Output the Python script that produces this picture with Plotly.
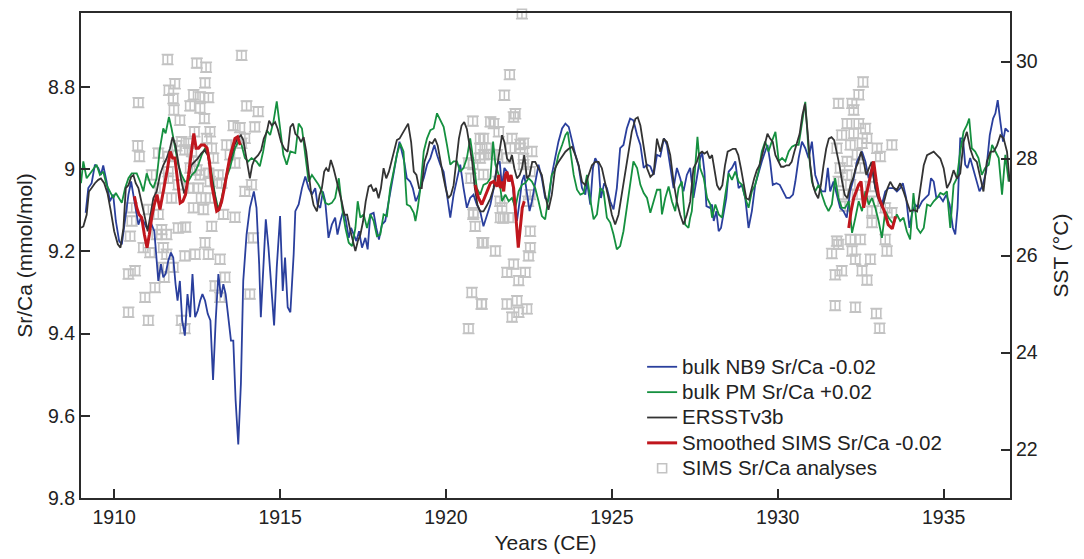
import plotly.graph_objects as go

# ---------------- data ----------------
nb9_years = [1909.14,1909.22,1909.32,1909.42,1909.52,1909.60,1909.67,1909.77,1909.87,1909.97,1910.05,1910.15,1910.23,1910.33,1910.43,1910.51,1910.58,1910.65,1910.73,1910.80,1910.88,1910.98,1911.05,1911.13,1911.21,1911.28,1911.33,1911.41,1911.48,1911.55,1911.63,1911.71,1911.78,1911.85,1911.91,1911.98,1912.05,1912.13,1912.21,1912.29,1912.36,1912.44,1912.52,1912.59,1912.66,1912.74,1912.82,1912.90,1912.98,1913.06,1913.14,1913.22,1913.29,1913.36,1913.44,1913.52,1913.59,1913.66,1913.74,1913.82,1913.89,1913.99,1914.09,1914.21,1914.29,1914.37,1914.42,1914.50,1914.57,1914.65,1914.73,1914.82,1914.90,1915.00,1915.08,1915.15,1915.23,1915.31,
 1915.41,1915.46,1915.56,1915.66,1915.76,1915.86,1915.96,1916.06,1916.13,1916.21,1916.29,1916.36,1916.46,1916.56,1916.66,1916.73,1916.82,1916.90,1916.97,1917.07,1917.14,1917.22,1917.30,1917.38,1917.47,1917.57,1917.64,1917.72,1917.82,1917.90,1917.98,1918.07,1918.17,1918.24,1918.34,1918.42,1918.52,1918.60,1918.67,1918.74,1918.82,1918.92,1919.00,1919.09,1919.18,1919.25,1919.33,1919.43,1919.53,1919.65,1919.73,1919.83,1919.93,1920.03,1920.13,1920.23,1920.33,1920.43,1920.53,1920.63,1920.73,1920.83,1920.93,1921.03,1921.13,1921.24,1921.34,
 1921.44,1921.54,1921.62,1921.69,1921.76,1921.84,1921.92,1921.99,1922.06,1922.14,1922.22,1922.29,1922.36,1922.44,1922.52,1922.59,1922.69,1922.79,1922.89,1922.99,1923.09,1923.19,1923.29,1923.39,1923.50,1923.60,1923.70,1923.80,1923.90,1924.00,1924.10,1924.20,1924.25,1924.35,1924.43,1924.50,1924.60,1924.67,1924.77,1924.85,1924.95,1925.05,1925.15,1925.25,1925.35,1925.45,1925.55,1925.65,1925.76,1925.86,1925.96,1926.06,1926.16,1926.26,1926.36,1926.46,1926.57,1926.66,1926.76,1926.86,1926.96,1927.06,1927.16,1927.26,1927.36,
 1927.46,1927.56,1927.64,1927.72,1927.79,1927.85,1927.95,1928.02,1928.07,1928.15,1928.22,1928.29,1928.37,1928.45,1928.52,1928.62,1928.72,1928.82,1928.92,1929.02,1929.12,1929.22,1929.32,1929.42,1929.52,1929.62,1929.69,1929.77,1929.85,1929.96,1930.06,1930.16,1930.26,1930.36,1930.46,1930.53,1930.63,1930.73,1930.83,1930.93,1931.03,1931.13,1931.23,1931.33,1931.43,1931.51,1931.58,1931.68,1931.78,1931.88,1931.98,1932.08,1932.18,1932.29,1932.39,1932.49,1932.54,1932.64,1932.74,1932.84,1932.94,1933.04,1933.14,1933.24,1933.34,
 1933.49,1933.59,1933.69,1933.77,1933.87,1933.97,1934.04,1934.14,1934.25,1934.35,1934.45,1934.55,1934.62,1934.70,1934.78,1934.88,1934.98,1935.08,1935.18,1935.28,1935.35,1935.42,1935.50,1935.58,1935.65,1935.72,1935.80,1935.88,1935.98,1936.08,1936.18,1936.28,1936.39,1936.49,1936.56,1936.63,1936.71,1936.79,1936.86,1936.96]
nb9_srca = [9.106,9.046,9.034,8.989,8.997,9.014,8.991,9.030,9.078,9.062,9.126,9.175,9.183,9.118,9.062,9.030,9.062,9.102,9.135,9.118,9.126,9.143,9.139,9.135,9.151,9.231,9.272,9.231,9.263,9.255,9.223,9.203,9.215,9.280,9.320,9.272,9.368,9.405,9.304,9.360,9.255,9.360,9.344,9.320,9.304,9.320,9.352,9.368,9.513,9.368,9.255,9.312,9.280,9.304,9.368,9.417,9.417,9.562,9.670,9.521,9.272,9.159,9.094,9.054,9.094,9.231,9.360,9.215,9.122,9.191,9.280,9.380,9.239,9.114,9.296,9.215,9.336,9.348,
 9.207,9.102,9.086,9.046,9.018,9.046,9.062,9.046,9.086,9.094,9.054,9.078,9.167,9.135,9.118,9.159,9.126,9.102,9.118,9.167,9.143,9.159,9.175,9.151,9.191,9.167,9.195,9.110,9.106,9.143,9.171,9.135,9.126,9.094,9.046,9.006,8.965,8.933,8.957,8.981,9.022,9.030,9.046,9.078,9.062,9.038,9.022,8.989,8.973,8.941,8.965,8.989,9.006,9.062,9.118,9.062,9.022,8.989,9.046,9.094,9.070,9.062,9.086,9.102,9.139,9.110,9.086,
 9.046,8.989,8.981,9.046,8.997,9.006,9.030,9.022,9.078,9.126,9.078,9.030,9.014,9.062,9.102,9.078,9.030,8.989,9.022,9.070,9.078,9.014,8.973,8.933,8.901,8.889,8.897,8.933,8.965,8.993,9.046,9.062,9.030,9.086,8.997,8.973,8.989,9.070,9.034,9.046,9.078,9.098,9.046,8.949,8.941,8.901,8.877,8.881,8.917,8.941,8.997,8.989,8.993,9.014,8.965,8.969,8.925,8.941,8.997,9.046,8.997,9.022,9.054,9.014,8.997,
 9.070,9.022,8.981,8.957,9.006,9.090,9.094,9.086,9.126,9.102,9.151,9.143,9.102,9.070,9.006,8.997,8.981,9.046,9.038,9.070,9.143,9.102,9.038,9.006,8.981,8.957,8.941,8.981,9.038,9.034,9.038,9.054,9.070,9.070,9.062,9.030,8.973,8.933,8.949,8.973,8.933,9.014,9.038,9.054,9.054,8.997,9.054,9.030,9.062,9.094,9.102,9.118,9.054,9.022,8.981,8.965,8.957,8.981,9.022,8.997,9.046,9.062,9.086,9.054,9.046,
 9.046,9.054,9.046,9.034,9.070,9.143,9.110,9.086,9.094,9.078,9.070,9.062,9.022,9.030,9.070,9.066,9.078,9.062,9.086,9.143,9.159,9.094,8.925,8.925,8.989,8.997,8.973,8.997,9.030,9.054,9.038,9.006,8.917,8.877,8.864,8.832,8.885,8.933,8.901,8.909]

pm_years = [1909.00,1909.07,1909.17,1909.32,1909.47,1909.57,1909.67,1909.77,1909.87,1909.97,1910.05,1910.13,1910.23,1910.33,1910.43,1910.53,1910.68,1910.78,1910.88,1910.98,1911.08,1911.18,1911.28,1911.38,1911.48,1911.55,1911.65,1911.73,1911.83,1911.93,1912.03,1912.13,1912.23,1912.34,1912.44,1912.54,1912.64,1912.74,1912.84,1912.94,1913.04,1913.14,1913.24,1913.34,1913.49,1913.64,1913.74,1913.84,1913.94,1914.04,1914.14,1914.29,1914.39,1914.49,1914.60,1914.70,1914.80,1914.90,1915.00,1915.10,1915.20,1915.31,
 1915.46,1915.56,1915.66,1915.76,1915.86,1915.96,1916.06,1916.16,1916.26,1916.36,1916.46,1916.56,1916.66,1916.77,1916.87,1916.97,1917.07,1917.17,1917.27,1917.34,1917.42,1917.52,1917.62,1917.72,1917.82,1917.92,1918.02,1918.12,1918.22,1918.32,1918.42,1918.52,1918.62,1918.72,1918.82,1918.92,1919.03,1919.08,1919.15,1919.23,1919.33,1919.43,1919.53,1919.63,1919.73,1919.83,1919.93,1920.03,1920.13,1920.23,1920.33,1920.43,1920.53,1920.63,1920.73,1920.83,1920.93,1921.03,1921.13,1921.24,1921.34,
 1921.42,1921.49,1921.59,1921.69,1921.79,1921.89,1921.99,1922.09,1922.19,1922.29,1922.39,1922.49,1922.59,1922.69,1922.79,1922.89,1922.99,1923.09,1923.19,1923.29,1923.39,1923.50,1923.60,1923.67,1923.75,1923.85,1923.95,1924.05,1924.15,1924.25,1924.35,1924.45,1924.55,1924.65,1924.75,1924.85,1924.95,1925.05,1925.15,1925.25,1925.35,1925.45,1925.55,1925.65,1925.76,1925.86,1925.96,1926.06,1926.16,1926.26,1926.36,1926.46,1926.51,1926.61,1926.71,1926.81,1926.91,1927.01,1927.11,1927.21,1927.31,1927.36,
 1927.41,1927.51,1927.58,1927.66,1927.77,1927.87,1927.97,1928.02,1928.12,1928.22,1928.32,1928.42,1928.52,1928.62,1928.72,1928.82,1928.92,1929.02,1929.12,1929.22,1929.32,1929.42,1929.52,1929.62,1929.72,1929.82,1929.93,1930.03,1930.13,1930.23,1930.33,1930.43,1930.53,1930.63,1930.73,1930.83,1930.93,1931.03,1931.13,1931.23,1931.33,1931.43,1931.53,1931.63,1931.73,1931.83,1931.93,1932.03,1932.14,1932.24,1932.34,1932.44,1932.54,1932.64,1932.74,1932.84,1932.94,1933.04,1933.14,1933.24,1933.34,
 1933.49,1933.59,1933.69,1933.79,1933.89,1933.99,1934.09,1934.20,1934.30,1934.40,1934.50,1934.60,1934.70,1934.80,1934.90,1935.00,1935.10,1935.20,1935.30,1935.40,1935.50,1935.60,1935.70,1935.77,1935.85,1935.95,1936.05,1936.15,1936.25,1936.36,1936.46,1936.56,1936.66,1936.76,1936.86,1936.96]
pm_srca = [9.034,8.981,9.022,9.006,8.989,9.014,9.006,9.038,9.054,9.070,9.058,9.070,9.082,9.046,9.022,9.010,9.010,9.030,9.054,9.010,9.034,9.046,9.022,8.949,8.901,8.913,8.873,8.901,8.949,8.989,9.014,9.030,9.030,9.014,9.006,8.989,8.965,8.949,8.965,9.014,9.062,9.098,9.070,9.030,8.997,8.949,8.933,8.941,8.973,8.981,8.973,8.981,8.993,8.957,8.905,8.917,8.885,8.835,8.901,8.965,8.989,8.957,
 8.961,8.889,8.901,8.965,9.030,9.014,9.026,9.038,9.054,9.082,9.086,9.082,9.070,9.022,9.094,9.143,9.179,9.187,9.143,9.078,9.118,9.110,9.143,9.110,9.126,9.163,9.159,9.110,9.114,9.046,9.006,8.965,8.937,8.957,9.086,9.090,9.106,9.126,9.094,9.046,8.957,8.925,8.905,8.901,8.864,8.881,8.897,8.941,8.989,8.981,8.981,9.006,8.997,8.973,8.925,8.981,9.046,9.062,9.038,9.034,9.022,
 8.933,8.989,9.014,9.078,9.062,9.078,9.070,9.094,9.054,9.038,9.034,9.022,9.030,9.046,9.078,9.114,9.122,9.070,9.014,9.002,8.965,8.941,8.917,8.909,8.957,9.014,9.050,9.062,9.058,9.014,9.074,9.122,9.110,9.046,9.054,9.118,9.130,9.159,9.195,9.187,9.151,9.094,9.046,8.981,8.997,9.038,9.058,9.070,9.106,9.078,9.050,9.050,9.110,9.070,9.042,9.078,9.102,9.046,9.030,9.135,9.143,9.118,
 9.102,8.997,8.921,8.997,9.022,9.070,9.086,9.118,9.086,9.110,9.118,9.062,9.010,9.026,9.006,9.030,9.038,9.070,9.094,9.054,9.038,9.006,8.957,8.933,8.957,8.933,8.909,8.981,8.973,8.981,8.957,8.945,8.941,8.941,8.893,8.836,8.957,9.030,9.054,9.038,9.062,9.086,9.102,9.086,9.022,9.070,9.094,9.094,9.078,9.155,9.118,9.078,9.102,9.054,9.086,9.070,9.094,9.126,9.167,9.102,9.118,
 9.134,9.110,9.126,9.118,9.151,9.171,9.058,9.143,9.155,9.143,9.086,9.090,9.078,9.070,9.058,9.062,9.054,9.143,9.038,9.022,8.957,8.909,8.893,8.877,8.949,8.957,8.973,9.014,8.997,8.989,8.941,8.957,8.973,9.062,8.965,9.030]

ersst_years = [1909.00,1909.07,1909.17,1909.24,1909.32,1909.42,1909.52,1909.60,1909.70,1909.80,1909.90,1910.00,1910.11,1910.19,1910.28,1910.35,1910.43,1910.51,1910.58,1910.65,1910.73,1910.83,1910.93,1911.01,1911.09,1911.18,1911.28,1911.38,1911.48,1911.58,1911.68,1911.76,1911.85,1911.93,1912.03,1912.11,1912.21,1912.32,1912.42,1912.52,1912.62,1912.72,1912.82,1912.92,1913.02,1913.12,1913.22,1913.32,1913.42,1913.52,1913.62,1913.72,1913.82,1913.89,1913.99,1914.09,1914.16,1914.24,1914.34,1914.43,1914.51,1914.60,1914.67,1914.75,1914.85,1914.93,1915.03,1915.13,1915.23,1915.31,
 1915.39,1915.46,1915.56,1915.63,1915.71,1915.79,1915.86,1915.93,1916.01,1916.11,1916.19,1916.26,1916.33,1916.39,1916.46,1916.53,1916.61,1916.69,1916.77,1916.86,1916.94,1917.02,1917.10,1917.18,1917.27,1917.34,1917.42,1917.50,1917.58,1917.67,1917.74,1917.82,1917.89,1917.97,1918.04,1918.12,1918.20,1918.28,1918.36,1918.44,1918.52,1918.60,1918.68,1918.77,1918.86,1918.95,1919.03,1919.11,1919.19,1919.27,1919.35,1919.43,1919.51,1919.59,1919.67,1919.75,1919.83,1919.91,1919.99,1920.07,1920.15,1920.23,1920.31,1920.39,1920.47,1920.55,1920.63,1920.71,1920.79,1920.87,1920.95,1921.03,1921.13,1921.24,1921.34,
 1921.44,1921.54,1921.62,1921.69,1921.76,1921.84,1921.92,1921.99,1922.06,1922.14,1922.22,1922.29,1922.36,1922.44,1922.52,1922.60,1922.69,1922.79,1922.89,1922.99,1923.09,1923.19,1923.29,1923.39,1923.50,1923.60,1923.70,1923.80,1923.90,1924.00,1924.10,1924.20,1924.30,1924.40,1924.50,1924.60,1924.70,1924.80,1924.90,1925.00,1925.10,1925.20,1925.30,1925.40,1925.50,1925.60,1925.71,1925.78,1925.86,1925.96,1926.06,1926.16,1926.26,1926.36,1926.46,1926.56,1926.66,1926.76,1926.86,1926.96,1927.06,1927.16,1927.26,1927.36,
 1927.46,1927.56,1927.64,1927.72,1927.79,1927.87,1927.95,1928.02,1928.09,1928.17,1928.25,1928.33,1928.41,1928.49,1928.57,1928.65,1928.73,1928.81,1928.89,1928.97,1929.05,1929.13,1929.21,1929.29,1929.37,1929.45,1929.53,1929.61,1929.69,1929.77,1929.85,1929.93,1930.02,1930.10,1930.18,1930.26,1930.34,1930.42,1930.50,1930.58,1930.66,1930.74,1930.82,1930.90,1930.98,1931.06,1931.14,1931.22,1931.30,1931.38,1931.46,1931.54,1931.62,1931.70,1931.78,1931.86,1931.94,1932.02,1932.10,1932.19,1932.27,1932.35,1932.43,1932.51,1932.59,1932.67,1932.75,1932.83,1932.91,1932.99,1933.07,1933.15,1933.23,1933.31,1933.39,
 1933.49,1933.59,1933.69,1933.79,1933.89,1933.99,1934.09,1934.20,1934.30,1934.40,1934.50,1934.60,1934.70,1934.80,1934.90,1935.00,1935.10,1935.20,1935.30,1935.40,1935.50,1935.60,1935.70,1935.80,1935.90,1936.00,1936.10,1936.20,1936.30,1936.41,1936.51,1936.61,1936.71,1936.81,1936.91,1936.99]
ersst_sst = [26.57,26.60,26.84,27.32,27.39,27.49,27.56,27.59,27.49,27.28,26.91,26.50,26.23,26.16,26.57,27.39,27.45,27.62,27.66,27.49,27.39,27.04,26.77,26.50,26.84,27.18,27.32,27.66,27.86,28.00,28.20,28.44,28.27,27.93,27.52,27.28,27.49,27.86,27.93,28.00,28.10,28.17,28.07,27.66,27.25,26.91,27.04,27.45,27.80,28.00,28.27,28.41,28.48,28.38,28.00,27.59,27.86,28.00,28.07,28.17,28.41,28.55,28.78,28.68,28.75,28.61,28.34,28.20,28.14,28.65,
 28.72,28.51,28.44,28.34,28.44,28.14,27.73,27.32,27.04,26.91,27.25,27.39,27.73,27.80,27.73,27.97,27.80,27.59,27.39,27.11,26.84,26.84,26.57,26.36,26.09,26.29,26.43,26.70,27.11,27.42,27.45,27.32,27.39,27.18,27.39,27.80,27.59,27.73,27.93,28.14,28.38,28.41,28.51,28.61,28.72,28.34,27.73,27.66,27.39,27.39,27.93,28.10,28.34,28.31,28.41,28.27,27.93,27.66,27.39,27.18,27.25,27.45,27.93,28.41,28.68,28.75,28.61,28.27,27.93,27.39,27.04,26.91,26.91,27.04,27.18,
 27.39,27.80,28.20,28.48,28.34,28.00,27.93,28.07,27.80,27.59,27.66,27.80,28.07,27.59,27.66,27.93,27.93,27.80,27.66,27.25,26.94,27.25,27.80,27.93,28.03,28.14,28.20,28.24,28.07,27.86,27.52,27.45,27.66,27.86,27.93,27.93,27.80,27.52,27.18,26.84,26.64,26.84,27.25,27.66,28.07,28.55,28.82,28.85,28.68,28.27,27.80,27.62,27.69,28.41,28.14,28.41,28.34,28.07,27.52,27.11,26.84,26.64,26.84,27.11,
 27.80,27.93,28.10,28.14,28.10,28.14,28.00,28.07,27.73,27.45,27.35,27.45,27.86,28.14,28.17,28.20,28.20,28.07,27.80,27.45,27.18,27.15,27.39,27.59,27.76,27.86,28.07,28.27,28.51,28.41,28.34,28.07,27.93,27.83,27.83,27.86,27.86,27.93,28.14,28.31,28.51,28.89,29.13,28.55,27.86,27.45,27.28,27.18,27.45,27.86,28.20,28.41,28.44,28.38,28.14,27.86,27.52,27.25,27.18,27.45,27.59,27.80,27.93,28.14,27.93,27.66,27.80,27.93,27.52,27.25,27.11,26.98,27.18,27.39,27.52,
 27.40,27.35,27.49,27.32,27.11,26.91,26.94,26.91,27.39,27.86,28.07,28.10,28.14,28.07,28.00,27.80,27.39,27.52,27.76,27.59,27.69,28.34,28.55,28.20,28.00,27.93,27.59,27.32,27.93,28.14,28.14,28.27,28.48,28.41,28.14,27.52]

# smoothed SIMS Sr/Ca (three coral sections, gaps as None)
sims_smooth_years = [1910.61,1910.68,1910.75,1910.83,1910.91,1910.99,1911.06,1911.13,1911.21,1911.29,1911.38,1911.45,1911.53,1911.61,1911.69,1911.76,1911.83,1911.91,1911.99,1912.07,1912.15,1912.24,1912.32,1912.40,1912.47,1912.54,1912.62,1912.72,1912.80,1912.87,1912.94,1913.02,1913.09,1913.16,1913.24,1913.32,1913.40,1913.48,1913.56,1913.64,1913.72,1913.80,
 None,
 1920.88,1920.98,1921.08,1921.18,1921.29,1921.34,1921.44,1921.54,1921.59,1921.64,1921.69,1921.74,1921.79,1921.84,1921.89,1921.96,1922.04,1922.12,1922.18,1922.24,1922.30,1922.36,
 None,
 1932.14,1932.21,1932.29,1932.37,1932.44,1932.51,1932.59,1932.67,1932.75,1932.83,1932.89,1932.97,1933.05,1933.13,1933.21,1933.33,1933.45,1933.55]
sims_smooth_srca = [9.066,9.094,9.110,9.118,9.159,9.191,9.159,9.118,9.086,9.062,9.098,9.070,9.038,8.997,8.957,8.973,8.973,9.030,9.082,9.078,9.062,9.014,8.957,8.913,8.949,8.949,8.941,8.941,8.949,8.981,9.038,9.078,9.102,9.098,9.078,9.046,9.006,8.973,8.949,8.925,8.921,8.941,
 None,
 9.038,9.070,9.086,9.066,9.046,9.034,9.030,9.042,9.014,9.046,9.030,9.054,9.014,9.006,9.030,9.014,9.046,9.126,9.191,9.143,9.094,9.078,
 None,
 9.143,9.102,9.070,9.054,9.038,9.030,9.094,9.062,9.030,9.006,8.981,9.030,9.070,9.086,9.102,9.135,9.145,9.115]

# individual SIMS Sr/Ca analyses
sims_years = [1911.61,1912.49,1912.77,1913.84,1910.73,1911.83,1911.65,1912.74,1912.39,1912.59,1912.84,1911.78,1912.29,1912.59,1911.80,1911.98,1912.72,1913.99,1914.34,1914.24,1913.59,1913.79,1912.89,1912.42,1912.24,1912.03,1912.79,1912.94,1910.71,1910.76,1911.33,1911.88,1912.13,1912.34,1911.63,1912.39,1912.99,1913.39,1913.49,1913.64,1913.84,1913.94,1912.29,1912.49,1911.63,1911.13,1911.63,1911.38,1911.73,1912.59,1912.84,1913.14,1913.24,1911.93,1912.24,1912.54,1912.89,1913.94,1914.14,1912.39,1912.69,1912.89,1912.62,1913.64,1913.29,1911.93,1912.15,1912.94,1910.53,1910.53,1910.48,1911.03,1911.33,1911.43,1911.58,1910.88,1911.08,1911.48,1911.58,1912.74,1912.13,1912.44,1912.84,1913.19,1910.43,1910.63,1911.78,1913.34,1913.04,1913.19,1911.23,1910.93,1914.09,1914.19,1910.43,1911.03,1912.03,1912.13,1911.48,1911.51,1911.28,
 1922.29,1921.92,1921.76,1922.04,1922.09,1921.44,1921.59,1921.13,1921.99,1922.34,1922.59,1921.23,1921.54,1921.94,1922.24,1921.03,1922.34,1921.84,1922.54,1921.69,1921.64,1921.89,1922.54,1921.13,1921.49,1922.54,1922.49,1922.04,1921.84,1922.39,1922.19,1921.08,1921.84,1922.14,1922.44,1922.19,1921.99,
 1920.81,1921.03,1920.68,1920.75,1920.83,1920.88,1921.09,1920.78,1921.07,1920.68,1921.34,1921.14,1921.03,1921.34,1920.82,1921.13,1921.58,1922.24,1922.33,1922.54,1922.48,1920.82,1921.72,1921.63,
 1932.57,1932.44,1931.83,1932.24,1932.29,1932.09,1932.44,1932.64,1931.93,1932.29,1932.69,1932.19,1932.54,1932.99,1933.09,1931.78,1932.39,1932.09,1931.88,1932.49,1932.09,1931.83,1932.19,1932.79,1931.98,1932.39,1932.89,1932.03,1932.84,1933.24,1932.84,1931.78,1932.19,1932.49,1931.83,1931.63,1932.24,1932.34,1932.79,1931.93,1931.73,1932.54,1932.69,1931.73,1932.34,1932.97,1933.07,1933.44,1933.24,1933.29,1933.44]
sims_srca = [8.733,8.742,8.752,8.723,8.838,8.792,8.808,8.790,8.819,8.824,8.826,8.828,8.846,8.851,8.856,8.881,8.877,8.846,8.860,8.897,8.894,8.899,8.909,8.909,8.937,8.933,8.925,8.949,8.943,8.969,8.961,8.943,8.953,8.957,8.969,8.981,8.973,8.941,8.965,8.985,8.937,8.925,8.997,9.002,9.006,9.014,9.022,9.046,9.070,9.014,9.010,9.014,9.034,9.038,9.046,9.046,9.030,9.054,9.038,9.094,9.098,9.070,9.070,9.117,9.110,9.143,9.141,9.139,9.094,9.126,9.163,9.098,9.110,9.147,9.159,9.191,9.203,9.191,9.207,9.179,9.211,9.207,9.207,9.219,9.255,9.247,9.239,9.263,9.284,9.312,9.288,9.312,9.304,9.167,9.348,9.368,9.368,9.388,9.239,9.263,9.159,
 8.622,8.770,8.820,8.873,8.865,8.889,8.909,8.925,8.925,8.937,8.957,8.949,8.965,8.949,8.949,8.973,8.989,8.973,9.062,9.094,9.118,9.118,9.151,9.179,9.199,9.191,9.211,9.231,9.251,9.251,9.271,9.328,9.328,9.320,9.340,9.348,9.360,
 8.883,8.925,8.985,9.022,9.106,9.139,9.179,9.300,9.328,9.388,8.885,8.965,8.950,8.964,8.989,9.013,9.030,8.940,8.974,9.006,9.078,9.110,9.119,9.078,
 8.788,8.819,8.840,8.840,8.856,8.889,8.889,8.901,8.917,8.913,8.925,8.941,8.937,8.949,8.969,8.949,8.965,8.981,8.997,8.997,9.014,9.030,9.038,9.042,9.062,9.062,9.078,9.090,9.102,9.094,9.130,9.175,9.171,9.171,9.183,9.205,9.199,9.219,9.219,9.247,9.257,9.247,9.270,9.332,9.336,9.351,9.387,8.941,9.171,9.199,9.106]
sims_err = 0.012

x_ticks = [1910, 1915, 1920, 1925, 1930, 1935]
srca_ticks = [8.8, 9.0, 9.2, 9.4, 9.6, 9.8]
srca_labels = ["8.8", "9", "9.2", "9.4", "9.6", "9.8"]
sst_ticks = [22, 24, 26, 28, 30]

# ---------------- figure ----------------
FONT = "Liberation Sans, Arial, Helvetica, sans-serif"
AX = "#2b2b2b"
LEG = "<span style='font-size:20.5px'>%s</span>"

fig = go.Figure()

fig.add_trace(go.Scatter(
    x=sims_years, y=sims_srca, mode="markers", name=LEG % "SIMS Sr/Ca analyses",
    marker=dict(symbol="square-open", size=9, color="#c3c3c3", line=dict(width=1.6, color="#c3c3c3")),
    error_y=dict(type="constant", value=sims_err, width=6, thickness=1.5, color="#c3c3c3"),
    cliponaxis=False, legendrank=5, yaxis="y"))

fig.add_trace(go.Scatter(
    x=nb9_years, y=nb9_srca, mode="lines", name=LEG % "bulk NB9 Sr/Ca -0.02",
    line=dict(color="#2a3f9d", width=1.8), legendrank=1, yaxis="y"))

fig.add_trace(go.Scatter(
    x=pm_years, y=pm_srca, mode="lines", name=LEG % "bulk PM Sr/Ca +0.02",
    line=dict(color="#15903f", width=1.8), legendrank=2, yaxis="y"))

fig.add_trace(go.Scatter(
    x=ersst_years, y=ersst_sst, mode="lines", name=LEG % "ERSSTv3b",
    line=dict(color="#333333", width=1.8), legendrank=3, yaxis="y2"))

fig.add_trace(go.Scatter(
    x=sims_smooth_years, y=sims_smooth_srca, mode="lines", name=LEG % "Smoothed SIMS Sr/Ca -0.02",
    line=dict(color="#c0161d", width=3), connectgaps=False, legendrank=4, yaxis="y3"))

fig.update_layout(
    width=1076, height=551,
    margin=dict(l=73, r=74, t=3, b=61),
    paper_bgcolor="white", plot_bgcolor="white",
    font=dict(family=FONT, size=19.5, color="#222222"),
    showlegend=True,
    legend=dict(x=0.604, y=0.307, xanchor="left", yanchor="top",
                bgcolor="rgba(0,0,0,0)", font=dict(size=17.2), tracegroupgap=0),
    xaxis=dict(range=[1909, 1937], tickvals=x_ticks, ticks="inside", ticklen=9,
               tickwidth=1.5, tickcolor=AX, showline=True, linecolor=AX, linewidth=2,
               mirror=True, showgrid=False, zeroline=False, ticklabelstandoff=1,
               title=dict(text="Years (CE)", standoff=8, font=dict(size=21))),
    yaxis=dict(range=[9.8, 8.62], tickvals=srca_ticks, ticktext=srca_labels,
               ticks="inside", ticklen=9, tickwidth=1.5, tickcolor=AX,
               showline=True, linecolor=AX, linewidth=2, showgrid=False, zeroline=False,
               title=dict(text="Sr/Ca (mmol/mol)", standoff=10, font=dict(size=21))),
    yaxis2=dict(range=[21, 31], tickvals=sst_ticks, overlaying="y", side="right",
                ticks="inside", ticklen=9, tickwidth=1.5, tickcolor=AX,
                showline=True, linecolor=AX, linewidth=2, showgrid=False, zeroline=False,
                title=dict(text="SST (°C)", standoff=17, font=dict(size=21))),
    yaxis3=dict(range=[9.8, 8.62], overlaying="y", visible=False, showgrid=False, zeroline=False),
)

fig.write_html("out.html")
